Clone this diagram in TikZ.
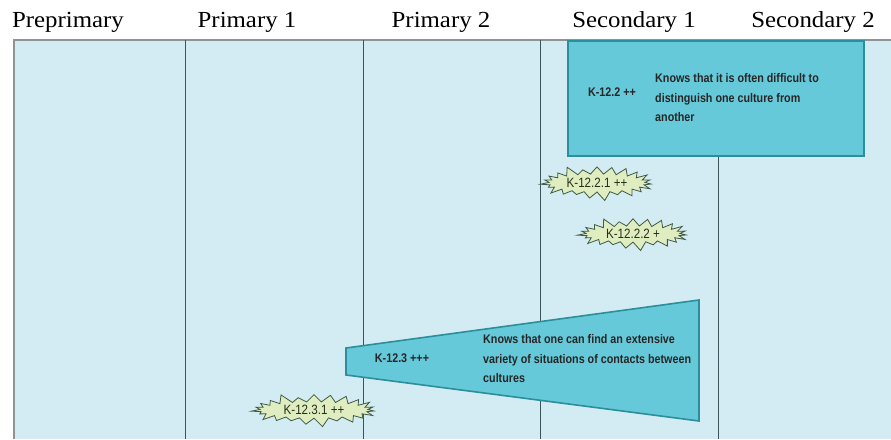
\documentclass[tikz,border=0pt]{standalone}
\usepackage{fontspec}
\setmainfont{Liberation Serif}[FakeStretch=1.08]
\newfontfamily\boxfont[FakeStretch=0.86]{Liberation Sans}
\usetikzlibrary{shapes.symbols}
\definecolor{bgblue}{HTML}{D3EBF2}
\definecolor{boxfill}{HTML}{66C9D9}
\definecolor{boxline}{HTML}{2A8F9A}
\definecolor{colline}{HTML}{3C5558}
\definecolor{framegray}{HTML}{8E9496}
\definecolor{starfill}{HTML}{E0EDC0}
\definecolor{starline}{HTML}{3E5A44}
\definecolor{startext}{HTML}{263018}
\tikzset{
  head/.style={font=\fontsize{23}{23}\selectfont, text=black, inner sep=0pt},
  colsep/.style={draw=colline, line width=1pt},
  boxshape/.style={draw=boxline, fill=boxfill, line width=1.6pt},
  idtext/.style={font=\boxfont\bfseries\fontsize{12.5}{20}\selectfont, text=black!85, inner sep=0pt},
  desctext/.style={font=\boxfont\bfseries\fontsize{12.5}{19.5}\selectfont, text=black!85, align=left, inner sep=0pt, anchor=west},
  burst/.style={starburst, starburst points=23, starburst point height=10pt, draw=starline, fill=starfill, line width=0.8pt,
    font=\boxfont\fontsize{13.5}{14}\selectfont, text=startext, inner sep=1pt}
}
\begin{document}
\begin{tikzpicture}[x=1pt,y=-1pt]
\useasboundingbox (0,0) rectangle (891,439);
\fill[bgblue] (14,40) rectangle (891,439);
\draw[framegray, line width=1.3pt] (14,439) -- (14,40) -- (891,40);
% column separators
\coordinate (c1t) at (185,40); \coordinate (c1b) at (185,439);
\coordinate (c2t) at (363,40); \coordinate (c2b) at (363,439);
\coordinate (c3t) at (540,40); \coordinate (c3b) at (540,439);
\coordinate (c4t) at (718,40); \coordinate (c4b) at (718,439);
\draw[colsep] (c1t) -- (c1b);
\draw[colsep] (c2t) -- (c2b);
\draw[colsep] (c3t) -- (c3b);
\draw[colsep] (c4t) -- (c4b);
% headings
\node[head] (h0) at (68,22) {Preprimary};
\node[head] (h1) at (247,22) {Primary 1};
\node[head] (h2) at (441,22) {Primary 2};
\node[head] (h3) at (634,22) {Secondary 1};
\node[head] (h4) at (813,22) {Secondary 2};
% K-12.2 box
\node[boxshape, rectangle, minimum width=296pt, minimum height=115pt, anchor=north west, inner sep=0pt] (k122) at (567,40) {};
\node[idtext] (k122id) at (612,92) {K-12.2 ++};
\node[desctext] (k122d) at (655,98) {Knows that it is often difficult to\\distinguish one culture from\\another};
% starbursts
\node[burst, minimum width=116pt, minimum height=38pt] (k1221) at (597,183) {K-12.2.1 ++};
\node[burst, minimum width=114pt, minimum height=36pt] (k1222) at (633,234) {K-12.2.2 +};
% K-12.3 trapezoid
\coordinate (t1) at (346,348);
\coordinate (t2) at (699,300);
\coordinate (t3) at (699,421);
\coordinate (t4) at (346,375);
\draw[boxshape] (t1) -- (t2) -- (t3) -- (t4) -- cycle;
\node[idtext] (k123id) at (402,358) {K-12.3 +++};
\node[desctext] (k123d) at (483,359) {Knows that one can find an extensive\\variety of situations of contacts between\\cultures};
\node[burst, minimum width=128pt, minimum height=36pt] (k1231) at (314,410) {K-12.3.1 ++};
\end{tikzpicture}
\end{document}
